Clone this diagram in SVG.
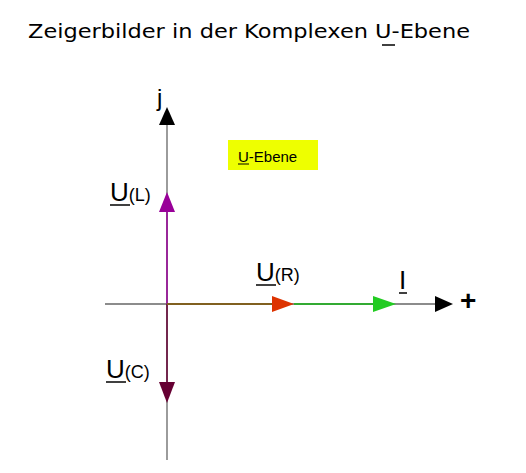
<svg xmlns="http://www.w3.org/2000/svg" width="526" height="473" viewBox="0 0 526 473">
<defs>
<style>
text{font-family:"Liberation Sans",Arial,sans-serif;fill:#000}
.big{font-size:26px}
.sub{font-size:18px}
.ax{stroke:#666;stroke-width:1.3;fill:none}
</style>
</defs>
<rect width="526" height="473" fill="#fff"/>
<g id="title">
<text x="28" y="38" style="font-family:'DejaVu Sans',sans-serif;font-size:20px" textLength="442" lengthAdjust="spacingAndGlyphs">Zeigerbilder in der Komplexen U-Ebene</text>
<line x1="382" y1="45" x2="395" y2="45" stroke="#000" stroke-width="1.5"/>
</g>
<g id="connectors">
<line class="ax" x1="167" y1="460" x2="167" y2="122"/>
<polygon points="167,107 159,125 175,125" fill="#000"/>
<line class="ax" x1="105" y1="304" x2="438" y2="304"/>
<polygon points="453,304 435,296 435,312" fill="#000"/>
<line x1="167" y1="304" x2="167" y2="210" stroke="#990099" stroke-width="1.5"/>
<polygon points="167,192 159,212 175,212" fill="#990099"/>
<line x1="167" y1="304" x2="167" y2="384" stroke="#660033" stroke-width="1.5"/>
<polygon points="167,403 159,382 175,382" fill="#660033"/>
<line x1="294" y1="304" x2="375" y2="304" stroke="#33aa33" stroke-width="2"/>
<polygon points="396,304 373,296 373,312" fill="#22cc22"/>
<line x1="167" y1="304" x2="274" y2="304" stroke="#806020" stroke-width="2"/>
<polygon points="294,304 272,296 272,312" fill="#dd3300"/>
</g>
<g id="j-label"><text x="157" y="106" font-size="24">j</text></g>
<g id="plus-label"><text x="460" y="310" font-size="28" font-weight="bold">+</text></g>
<g id="u-ebene">
<rect x="228" y="140" width="90" height="30" fill="#eeff00"/>
<text x="238" y="162" font-size="15">U-Ebene</text>
<line x1="238" y1="164" x2="249" y2="164" stroke="#000" stroke-width="1"/>
</g>
<g id="ul-label">
<text x="110" y="201"><tspan class="big">U</tspan><tspan class="sub">(L)</tspan></text>
<line x1="110" y1="205" x2="130" y2="205" stroke="#000" stroke-width="1.5"/>
</g>
<g id="ur-label">
<text x="256" y="281"><tspan class="big">U</tspan><tspan class="sub">(R)</tspan></text>
<line x1="256" y1="285" x2="276" y2="285" stroke="#000" stroke-width="1.5"/>
</g>
<g id="i-label">
<text x="399" y="289" font-size="26">I</text>
<line x1="399" y1="293" x2="407" y2="293" stroke="#000" stroke-width="1.5"/>
</g>
<g id="uc-label">
<text x="106" y="378"><tspan class="big">U</tspan><tspan class="sub">(C)</tspan></text>
<line x1="106" y1="382" x2="126" y2="382" stroke="#000" stroke-width="1.5"/>
</g>
</svg>
